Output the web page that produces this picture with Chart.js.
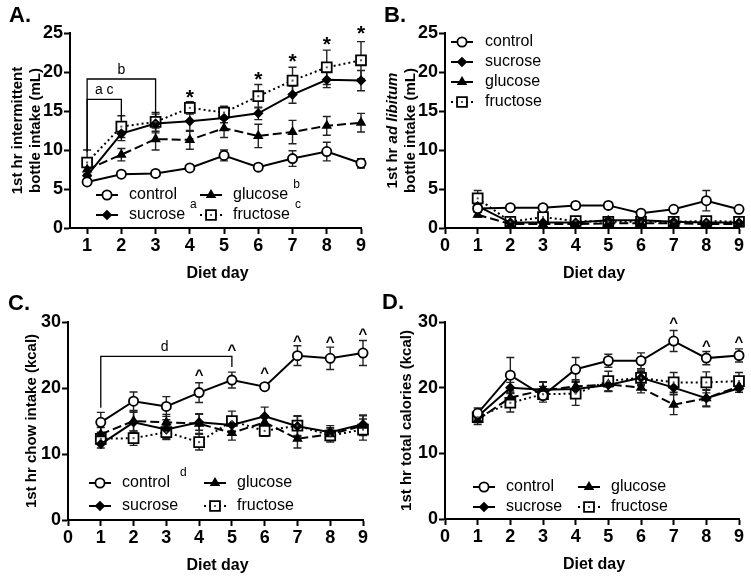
<!DOCTYPE html>
<html><head><meta charset="utf-8">
<script src="https://cdn.jsdelivr.net/npm/chart.js@4.4.1/dist/chart.umd.min.js"></script>
<style>
html,body{margin:0;padding:0;background:#fff;}
#wrap{position:relative;width:751px;height:581px;overflow:hidden;background:#fff;}
canvas{position:absolute;}
</style></head><body>
<div id="wrap">
<canvas id="cA" width="375" height="290" style="left:0px;top:0px"></canvas>
<canvas id="cB" width="376" height="290" style="left:375px;top:0px"></canvas>
<canvas id="cC" width="375" height="291" style="left:0px;top:290px"></canvas>
<canvas id="cD" width="376" height="291" style="left:375px;top:290px"></canvas>
</div>
<script>
// ---------- data ----------
const days = [1, 2, 3, 4, 5, 6, 7, 8, 9];
const seriesNames = ['control', 'sucrose', 'glucose', 'fructose'];

const xTicksA = [1, 2, 3, 4, 5, 6, 7, 8, 9];
const xTicksAll = [0, 1, 2, 3, 4, 5, 6, 7, 8, 9];
const yTicksAB = [0, 5, 10, 15, 20, 25];
const yTicksCD = [0, 10, 20, 30];

// Panel A: 1st hr intermittent bottle intake (mL)
const aControl = [5.9, 6.9, 7.0, 7.7, 9.3, 7.8, 8.9, 9.8, 8.3];
const aControlErr = [0.3, 0.3, 0.3, 0.3, 0.7, 0.4, 1.0, 1.2, 0.6];
const aSucrose = [6.7, 12.1, 13.4, 13.7, 14.1, 14.7, 17.1, 19.0, 18.9];
const aSucroseErr = [0.6, 0.9, 1.2, 1.3, 0.6, 0.8, 1.1, 1.0, 1.3];
const aGlucose = [7.5, 9.4, 11.4, 11.3, 12.8, 11.8, 12.3, 13.1, 13.5];
const aGlucoseErr = [0.6, 0.8, 1.4, 1.2, 1.2, 1.5, 1.5, 1.2, 1.2];
const aFructose = [8.4, 13.0, 13.6, 15.4, 14.8, 16.9, 18.9, 20.6, 21.5];
const aFructoseErr = [1.6, 1.4, 1.2, 0.8, 0.8, 1.5, 1.7, 2.2, 2.4];
const aStarDays = [4, 6, 7, 8, 9];
const aStarVals = [17.6, 19.9, 22.2, 24.4, 25.8];

// Panel B: 1st hr ad libitum bottle intake (mL)
const bControl = [2.5, 2.6, 2.6, 2.9, 2.9, 1.9, 2.4, 3.5, 2.4];
const bControlErr = [0.5, 0.2, 0.2, 0.4, 0.4, 0.2, 0.2, 1.3, 0.2];
const bSucrose = [2.8, 0.7, 0.7, 0.7, 1.0, 1.0, 0.8, 0.7, 0.7];
const bSucroseErr = [0.3, 0.1, 0.1, 0.1, 0.2, 0.2, 0.1, 0.1, 0.1];
const bGlucose = [1.7, 0.5, 0.5, 0.5, 0.6, 0.6, 0.6, 0.5, 0.5];
const bGlucoseErr = [0.3, 0.1, 0.1, 0.1, 0.1, 0.1, 0.1, 0.1, 0.1];
const bFructose = [3.8, 0.8, 1.4, 0.9, 0.8, 0.8, 0.8, 0.9, 0.8];
const bFructoseErr = [1.0, 0.2, 0.3, 0.2, 0.2, 0.2, 0.2, 0.2, 0.2];

// Panel C: 1st hr chow intake (kcal)
const cControl = [14.8, 18.0, 17.2, 19.3, 21.2, 20.2, 24.9, 24.5, 25.3];
const cControlErr = [1.5, 1.4, 1.5, 1.5, 1.2, 0.4, 1.5, 1.7, 1.9];
const cSucrose = [11.5, 14.8, 13.7, 14.8, 14.4, 15.7, 14.2, 13.3, 14.5];
const cSucroseErr = [0.6, 1.5, 1.5, 1.2, 1.0, 1.4, 1.5, 1.0, 1.4];
const cGlucose = [13.0, 15.0, 14.8, 14.6, 13.2, 14.8, 12.3, 13.0, 14.3];
const cGlucoseErr = [1.0, 1.5, 1.2, 1.5, 1.1, 1.0, 1.4, 1.0, 1.5];
const cFructose = [12.3, 12.4, 13.3, 11.8, 15.0, 13.5, 14.3, 12.8, 13.7];
const cFructoseErr = [0.8, 1.1, 1.0, 1.2, 1.5, 0.8, 1.5, 1.0, 1.6];
const cCaretDays = [4, 5, 6, 7, 8, 9];
const cCaretVals = [22.4, 26.2, 22.7, 27.6, 27.5, 28.6];

// Panel D: 1st hr total calories (kcal)
const dControl = [16.1, 21.9, 18.8, 22.8, 24.1, 24.1, 27.1, 24.5, 24.9];
const dControlErr = [0.8, 2.7, 0.6, 1.8, 1.0, 1.2, 1.6, 1.0, 1.0];
const dSucrose = [15.6, 20.0, 19.7, 19.8, 20.4, 21.5, 20.0, 18.4, 19.9];
const dSucroseErr = [0.8, 0.8, 1.2, 1.0, 1.0, 1.0, 1.0, 1.2, 0.6];
const dGlucose = [15.1, 18.5, 19.6, 20.2, 20.5, 20.0, 17.4, 18.4, 20.2];
const dGlucoseErr = [0.7, 1.0, 1.2, 1.0, 1.0, 0.8, 1.5, 1.3, 0.5];
const dFructose = [15.5, 17.7, 19.0, 19.1, 21.0, 21.5, 20.8, 20.8, 21.0];
const dFructoseErr = [0.8, 1.4, 1.2, 1.8, 1.5, 1.2, 1.5, 1.6, 1.3];
const dCaretDays = [7, 8, 9];
const dCaretVals = [30.3, 26.8, 27.4];

// ---------- styles ----------
const FONT = "'Liberation Sans', Arial, Helvetica, sans-serif";
const STYLES = [
  { pointStyle: 'circle', radius: 4.6, fill: '#ffffff', dash: [] },
  { pointStyle: 'rectRot', radius: 4, fill: '#000000', dash: [] },
  { pointStyle: 'triangle', radius: 4.3, fill: '#000000', dash: [9, 4] },
  { pointStyle: 'rect', radius: 7, fill: '#ffffff', dash: [2, 3] }
];

function drawMarker(ctx, st, x, y) {
  const r = st.radius;
  ctx.save();
  ctx.setLineDash([]);
  ctx.lineWidth = 1.8;
  ctx.strokeStyle = '#000';
  ctx.beginPath();
  if (st.pointStyle === 'circle') ctx.arc(x, y, r, 0, Math.PI * 2);
  else if (st.pointStyle === 'rect') { const s = r * Math.SQRT1_2; ctx.rect(x - s, y - s, 2 * s, 2 * s); }
  else if (st.pointStyle === 'rectRot') { ctx.moveTo(x - r, y); ctx.lineTo(x, y - r); ctx.lineTo(x + r, y); ctx.lineTo(x, y + r); ctx.closePath(); }
  else { ctx.moveTo(x, y - r); ctx.lineTo(x + 0.866 * r, y + 0.5 * r); ctx.lineTo(x - 0.866 * r, y + 0.5 * r); ctx.closePath(); }
  ctx.fillStyle = st.fill; ctx.fill(); ctx.stroke();
  if (st.pointStyle === 'rect') { ctx.fillStyle = '#555'; ctx.fillRect(x - 1, y - 1, 2, 2); }
  ctx.restore();
}

function drawRichText(ctx, segs, x, y, size, align) {
  let total = 0;
  segs.forEach(s => { ctx.font = (s.i ? 'italic ' : '') + 'bold ' + size + 'px ' + FONT; s.w = ctx.measureText(s.t).width; total += s.w; });
  let cx = align === 'center' ? x - total / 2 : x;
  segs.forEach(s => {
    ctx.font = (s.i ? 'italic ' : '') + 'bold ' + size + 'px ' + FONT;
    ctx.textAlign = 'left';
    ctx.fillText(s.t, cx, y);
    cx += s.w;
  });
}

function makePanel(id, p) {
  const deco = {
    id: 'deco' + p.letter,
    beforeDatasetsDraw(chart) {
      const { ctx, scales: { x, y } } = chart;
      ctx.save();
      ctx.strokeStyle = '#222';
      ctx.lineWidth = 1.4;
      p.series.forEach((vals, si) => {
        const errs = p.errs[si];
        vals.forEach((v, i) => {
          const px = x.getPixelForValue(days[i]);
          const t = y.getPixelForValue(v + errs[i]);
          const b = y.getPixelForValue(v - errs[i]);
          ctx.beginPath();
          ctx.moveTo(px, t); ctx.lineTo(px, b);
          ctx.moveTo(px - 4, t); ctx.lineTo(px + 4, t);
          ctx.moveTo(px - 4, b); ctx.lineTo(px + 4, b);
          ctx.stroke();
        });
      });
      ctx.restore();
    },
    afterDatasetsDraw(chart) {
      const { ctx, scales: { x, y } } = chart;
      ctx.save();
      ctx.fillStyle = '#555';
      p.series[3].forEach((v, i) => {
        const px = x.getPixelForValue(days[i]), py = y.getPixelForValue(v);
        ctx.fillRect(px - 1, py - 1, 2, 2);
      });
      ctx.restore();
    },
    afterDraw(chart) {
      const { ctx, chartArea: ca, scales: { x, y } } = chart;
      ctx.save();
      ctx.fillStyle = '#000';
      ctx.strokeStyle = '#000';
      ctx.font = 'bold 22px ' + FONT;
      ctx.textAlign = 'left'; ctx.textBaseline = 'middle';
      ctx.fillText(p.letter + '.', p.letterPos[0], p.letterPos[1]);
      const yc = (ca.top + ca.bottom) / 2;
      p.yTitle.forEach((line, li) => {
        ctx.save();
        ctx.translate(p.yTitleX[li], yc);
        ctx.rotate(-Math.PI / 2);
        ctx.textBaseline = 'middle';
        drawRichText(ctx, line, 0, 0, 15, 'center');
        ctx.restore();
      });
      ctx.font = 'bold 16px ' + FONT;
      ctx.textAlign = 'center'; ctx.textBaseline = 'middle';
      ctx.fillText('Diet day', (ca.left + ca.right) / 2 + 2, ca.bottom + 46);
      ctx.lineWidth = 1.3;
      (p.brackets || []).forEach(bk => {
        const x1 = x.getPixelForValue(bk.from), x2 = x.getPixelForValue(bk.to);
        const yb = y.getPixelForValue(bk.base), yt = y.getPixelForValue(bk.top), ye = y.getPixelForValue(bk.end);
        ctx.beginPath();
        ctx.moveTo(x1, yb); ctx.lineTo(x1, yt); ctx.lineTo(x2, yt); ctx.lineTo(x2, ye);
        ctx.stroke();
        ctx.font = '14px ' + FONT;
        ctx.textAlign = 'center'; ctx.textBaseline = 'alphabetic';
        ctx.fillText(bk.label, x.getPixelForValue(bk.labelDay), yt - 5);
      });
      (p.marks || []).forEach(m => {
        ctx.font = 'bold ' + m.size + 'px ' + FONT;
        ctx.textAlign = 'center'; ctx.textBaseline = 'alphabetic';
        m.days.forEach((d, i) => {
          ctx.fillText(m.text, x.getPixelForValue(d), y.getPixelForValue(m.vals[i]) + m.size * m.shift);
        });
      });
      const L = p.legend;
      L.items.forEach(it => {
        const st = STYLES[it.s];
        const sx = L.colX[it.col], sy = L.rowY[it.row];
        ctx.save();
        ctx.lineWidth = 2; ctx.strokeStyle = '#000';
        ctx.setLineDash(st.dash);
        ctx.beginPath(); ctx.moveTo(sx, sy); ctx.lineTo(sx + L.len, sy); ctx.stroke();
        ctx.restore();
        drawMarker(ctx, st, sx + L.len / 2, sy);
        ctx.font = '16px ' + FONT;
        ctx.textAlign = 'left'; ctx.textBaseline = 'middle';
        ctx.fillStyle = '#000';
        const tx = sx + L.textOff;
        ctx.fillText(seriesNames[it.s], tx, sy);
        if (it.sup) {
          const w = ctx.measureText(seriesNames[it.s]).width;
          ctx.font = '12px ' + FONT;
          ctx.fillText(it.sup, tx + w + (it.supGap || 5), sy - 10);
        }
      });
      ctx.restore();
    }
  };

  const datasets = p.series.map((vals, si) => ({
    label: seriesNames[si],
    data: days.map((d, i) => ({ x: d, y: vals[i] })),
    borderColor: '#000',
    borderWidth: 2,
    borderDash: STYLES[si].dash,
    pointStyle: STYLES[si].pointStyle,
    pointRadius: STYLES[si].radius,
    pointHoverRadius: STYLES[si].radius,
    pointBackgroundColor: STYLES[si].fill,
    pointBorderColor: '#000',
    pointBorderWidth: 1.8,
    tension: 0,
    fill: false,
    clip: false
  }));

  const axisCommon = {
    type: 'linear',
    border: { display: true, color: '#000', width: 2 },
    grid: { display: true, drawOnChartArea: false, drawTicks: true, tickLength: 6, tickWidth: 2, tickColor: '#000' },
  };
  const canvas = document.getElementById(id);
  const W = canvas.width, H = canvas.height;
  return new Chart(canvas, {
    type: 'line',
    data: { datasets },
    options: {
      responsive: false,
      animation: false,
      devicePixelRatio: 1,
      layout: { padding: { left: 0, top: p.area.top, right: W - p.area.right, bottom: 0 } },
      plugins: { legend: { display: false }, tooltip: { enabled: false }, title: { display: false } },
      scales: {
        x: Object.assign({}, axisCommon, {
          position: 'bottom',
          min: p.xMin, max: 9,
          afterBuildTicks: s => { s.ticks = p.xTicks.map(v => ({ value: v })); },
          afterFit: s => { s.height = H - p.area.bottom; },
          ticks: { color: '#000', font: { family: FONT, size: 18, weight: 'bold' }, padding: 1, maxRotation: 0, autoSkip: false }
        }),
        y: Object.assign({}, axisCommon, {
          position: 'left',
          min: 0, max: p.yMax,
          afterBuildTicks: s => { s.ticks = p.yTicks.map(v => ({ value: v })); },
          afterFit: s => { s.width = p.area.left; },
          ticks: { color: '#000', font: { family: FONT, size: 18, weight: 'bold' }, padding: 1 }
        })
      }
    },
    plugins: [deco]
  });
}

makePanel('cA', {
  letter: 'A', letterPos: [9, 16],
  series: [aControl, aSucrose, aGlucose, aFructose],
  errs: [aControlErr, aSucroseErr, aGlucoseErr, aFructoseErr],
  xMin: 0.5, xTicks: xTicksA, yMax: 25, yTicks: yTicksAB,
  area: { left: 70, top: 33, right: 361, bottom: 228 },
  yTitle: [[{ t: '1st hr intermittent' }], [{ t: 'bottle intake (mL)' }]],
  yTitleX: [18, 36],
  brackets: [
    { from: 1, to: 3, base: 9.8, top: 19.1, end: 14.2, label: 'b', labelDay: 2 },
    { from: 1, to: 2, base: 9.8, top: 16.5, end: 13.8, label: 'a c', labelDay: 1.5 }
  ],
  marks: [{ text: '*', size: 21, shift: 0.62, days: aStarDays, vals: aStarVals }],
  legend: {
    colX: [96, 200], rowY: [195, 215], len: 22, textOff: 33,
    items: [
      { s: 0, col: 0, row: 0 }, { s: 1, col: 0, row: 1, sup: 'a' },
      { s: 2, col: 1, row: 0, sup: 'b' }, { s: 3, col: 1, row: 1, sup: 'c' }
    ]
  }
});

makePanel('cB', {
  letter: 'B', letterPos: [9, 16],
  series: [bControl, bSucrose, bGlucose, bFructose],
  errs: [bControlErr, bSucroseErr, bGlucoseErr, bFructoseErr],
  xMin: 0, xTicks: xTicksAll, yMax: 25, yTicks: yTicksAB,
  area: { left: 70, top: 33, right: 364, bottom: 228 },
  yTitle: [[{ t: '1st hr ' }, { t: 'ad libitum', i: true }], [{ t: 'bottle intake (mL)' }]],
  yTitleX: [18, 36],
  legend: {
    colX: [76], rowY: [42, 62, 82, 102], len: 22, textOff: 34,
    items: [
      { s: 0, col: 0, row: 0 }, { s: 1, col: 0, row: 1 },
      { s: 2, col: 0, row: 2 }, { s: 3, col: 0, row: 3 }
    ]
  }
});

makePanel('cC', {
  letter: 'C', letterPos: [8, 14],
  series: [cControl, cSucrose, cGlucose, cFructose],
  errs: [cControlErr, cSucroseErr, cGlucoseErr, cFructoseErr],
  xMin: 0, xTicks: xTicksAll, yMax: 30, yTicks: yTicksCD,
  area: { left: 68, top: 32, right: 363, bottom: 230 },
  yTitle: [[{ t: '1st hr chow intake (kcal)' }]],
  yTitleX: [32],
  brackets: [{ from: 1, to: 5, base: 17.0, top: 24.8, end: 23.2, label: 'd', labelDay: 2.95 }],
  marks: [{ text: '^', size: 15, shift: 0.55, days: cCaretDays, vals: cCaretVals }],
  legend: {
    colX: [89, 204], rowY: [193, 216], len: 22, textOff: 33,
    items: [
      { s: 0, col: 0, row: 0, sup: 'd', supGap: 10 }, { s: 1, col: 0, row: 1 },
      { s: 2, col: 1, row: 0 }, { s: 3, col: 1, row: 1 }
    ]
  }
});

makePanel('cD', {
  letter: 'D', letterPos: [7, 13],
  series: [dControl, dSucrose, dGlucose, dFructose],
  errs: [dControlErr, dSucroseErr, dGlucoseErr, dFructoseErr],
  xMin: 0, xTicks: xTicksAll, yMax: 30, yTicks: yTicksCD,
  area: { left: 70, top: 32, right: 364, bottom: 229 },
  yTitle: [[{ t: '1st hr total calories (kcal)' }]],
  yTitleX: [32],
  marks: [{ text: '^', size: 15, shift: 0.55, days: dCaretDays, vals: dCaretVals }],
  legend: {
    colX: [98, 203], rowY: [197, 217], len: 22, textOff: 33,
    items: [
      { s: 0, col: 0, row: 0 }, { s: 1, col: 0, row: 1 },
      { s: 2, col: 1, row: 0 }, { s: 3, col: 1, row: 1 }
    ]
  }
});
</script>
</body></html>
